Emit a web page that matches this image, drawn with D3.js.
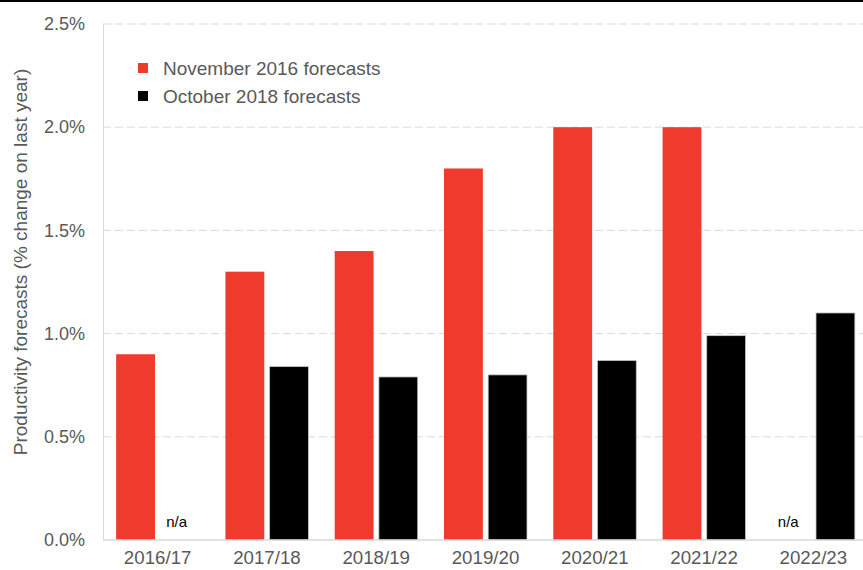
<!DOCTYPE html>
<html>
<head>
<meta charset="utf-8">
<script src="https://cdn.jsdelivr.net/npm/d3@7"></script>
<style>
  body { margin: 0; background: #fff; }
  svg { display: block; font-family: "Liberation Sans", Arial, sans-serif; }
</style>
</head>
<body>
<div id="chart"></div>
<script>
var categories = ['2016/17', '2017/18', '2018/19', '2019/20', '2020/21', '2021/22', '2022/23'];
var nov2016 = [0.9, 1.3, 1.4, 1.8, 2.0, 2.0, null];
var oct2018 = [null, 0.84, 0.79, 0.80, 0.87, 0.99, 1.1];
var yTicks = [0, 0.5, 1.0, 1.5, 2.0, 2.5];
var seriesNames = ['November 2016 forecasts', 'October 2018 forecasts'];
var seriesColors = ['#ee3b2e', '#000000'];

var width = 863, height = 570;
var margin = { top: 24, right: -5, bottom: 30, left: 103 };

var svg = d3.select('#chart').append('svg')
    .attr('width', width)
    .attr('height', height);

// black strip along top edge
svg.append('rect')
    .attr('x', 0).attr('y', 0)
    .attr('width', width).attr('height', 2)
    .attr('fill', '#000');

var x = d3.scaleBand()
    .domain(categories)
    .range([margin.left, width - margin.right]);

var y = d3.scaleLinear()
    .domain([0, 2.5])
    .range([height - margin.bottom, margin.top]);

var series = d3.scaleBand()
    .domain([0, 1])
    .range([0, 83])
    .paddingInner(0.12);

var groupOffset = (x.bandwidth() - 83) / 2;

// gridlines
svg.append('g')
    .selectAll('line')
    .data(yTicks.filter(function (d) { return d > 0; }))
    .enter().append('line')
    .attr('x1', margin.left).attr('x2', width)
    .attr('y1', function (d) { return y(d); })
    .attr('y2', function (d) { return y(d); })
    .attr('stroke', '#d9d9d9')
    .attr('stroke-width', 1)
    .attr('stroke-dasharray', '8,4');

// y axis
var yAxis = svg.append('g')
    .attr('transform', 'translate(' + margin.left + ',0)')
    .call(d3.axisLeft(y).tickValues(yTicks).tickFormat(function (d) { return d.toFixed(1) + '%'; }).tickSize(0).tickPadding(18));
yAxis.select('.domain').attr('stroke', '#d9d9d9');
yAxis.selectAll('text')
    .attr('fill', '#595959')
    .style('font-size', '18px')
    .style('font-family', '"Liberation Sans", Arial, sans-serif');

// bars
var data = [nov2016, oct2018];
data.forEach(function (vals, si) {
    svg.append('g')
        .selectAll('rect')
        .data(categories.map(function (c, i) { return { cat: c, value: vals[i] }; })
            .filter(function (d) { return d.value != null; }))
        .enter().append('rect')
        .attr('x', function (d) { return x(d.cat) + groupOffset + series(si); })
        .attr('y', function (d) { return y(d.value); })
        .attr('width', series.bandwidth())
        .attr('height', function (d) { return y(0) - y(d.value); })
        .attr('fill', seriesColors[si])
        .attr('stroke', si === 1 ? '#c8c8c8' : 'none')
        .attr('stroke-width', 0.8);
});

// n/a labels for missing values
data.forEach(function (vals, si) {
    svg.append('g')
        .selectAll('text')
        .data(categories.map(function (c, i) { return { cat: c, value: vals[i] }; })
            .filter(function (d) { return d.value == null; }))
        .enter().append('text')
        .attr('x', function (d) { return x(d.cat) + groupOffset + series(si) + series.bandwidth() / 2 - 3; })
        .attr('y', y(0) - 13)
        .attr('text-anchor', 'middle')
        .attr('fill', '#000')
        .style('font-size', '15px')
        .text('n/a');
});

// x axis baseline
svg.append('line')
    .attr('x1', margin.left).attr('x2', width)
    .attr('y1', y(0)).attr('y2', y(0))
    .attr('stroke', '#d9d9d9')
    .attr('stroke-width', 1.5);

var xAxis = svg.append('g')
    .attr('transform', 'translate(0,' + y(0) + ')')
    .call(d3.axisBottom(x).tickSize(0).tickPadding(11));
xAxis.select('.domain').remove();
xAxis.selectAll('text')
    .attr('fill', '#595959')
    .attr('dy', '0.71em')
    .style('font-size', '18.7px')
    .style('font-family', '"Liberation Sans", Arial, sans-serif');

// axis title
svg.append('text')
    .attr('transform', 'translate(27,262) rotate(-90)')
    .attr('text-anchor', 'middle')
    .attr('fill', '#595959')
    .style('font-size', '19px')
    .text('Productivity forecasts (% change on last year)');

// legend
var legend = svg.append('g').attr('transform', 'translate(138,63)');
seriesNames.forEach(function (name, i) {
    var row = legend.append('g').attr('transform', 'translate(0,' + (i * 28) + ')');
    row.append('rect')
        .attr('width', 10).attr('height', 10)
        .attr('fill', seriesColors[i]);
    row.append('text')
        .attr('x', 25).attr('y', 12)
        .attr('fill', '#595959')
        .style('font-size', '19px')
        .text(name);
});
</script>
</body>
</html>
